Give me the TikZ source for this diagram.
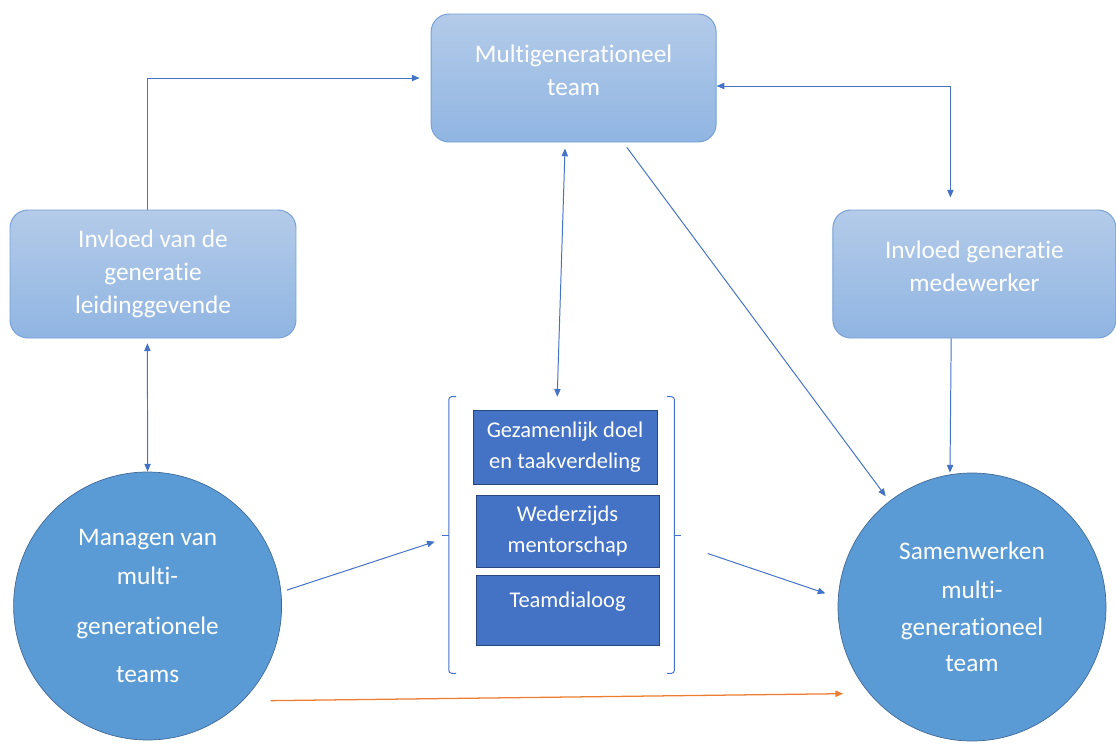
\documentclass[tikz,border=0pt]{standalone}
\usepackage{fontspec}
\setmainfont{Carlito}[Ligatures=NoCommon]
\usepackage{xcolor}
\usepackage{tikz}
\usetikzlibrary{arrows.meta}

\definecolor{boxtop}{RGB}{180,203,233}
\definecolor{boxbot}{RGB}{144,181,226}
\definecolor{boxedge}{RGB}{118,160,215}
\definecolor{circfill}{RGB}{91,155,213}
\definecolor{circedge}{RGB}{65,105,150}
\definecolor{subfill}{RGB}{68,114,196}
\definecolor{subedge}{RGB}{40,70,125}
\definecolor{lineblue}{RGB}{68,114,196}
\definecolor{lineorange}{RGB}{237,125,49}

\begin{document}
\begin{tikzpicture}[every node/.style={font=\fontsize{18}{23.5}\selectfont, text=white, align=center},
  >={Triangle[length=5.5pt,width=4.5pt]},
  genbox/.style={draw=boxedge, top color=boxtop, bottom color=boxbot, line width=0.7pt,
                 rounded corners=0.45cm, minimum width=7.125cm, minimum height=3.2cm},
  circ/.style={circle, draw=circedge, fill=circfill, line width=0.5pt,
               minimum size=6.7cm, inner sep=0pt},
  subbox/.style={draw=subedge, fill=subfill, line width=0.7pt, minimum width=4.575cm,
                 font=\fontsize{16}{22}\selectfont},
  conn/.style={draw=lineblue, line width=0.7pt},
  orangeconn/.style={draw=lineorange, line width=0.9pt},
  brk/.style={draw=lineblue, line width=0.7pt, rounded corners=2pt}]

  \useasboundingbox (0,0) rectangle (27.9,-18.675);

  % upper row
  \node[genbox, text depth=11.5pt] (tbox) at (14.34,-1.95) {Multigenerationeel\\team};
  \node[genbox, minimum width=7.15cm] (lbox) at (3.825,-6.85)
    {Invloed van de\\generatie\\leidinggevende};
  \node[genbox, minimum width=7.075cm, text depth=11.5pt] (rbox) at (24.36,-6.85)
    {Invloed generatie\\medewerker};

  % circles
  \node[circ] (lcirc) at (3.69,-15.15)
    {Managen van\\[4pt]multi-\\[12pt]generationele\\[11pt]teams};
  \node[circ] (rcirc) at (24.3,-15.175)
    {Samenwerken\\[4pt]multi-\\[3pt]generationeel\\[2pt]team};

  % middle group
  \node[minimum width=5.625cm, minimum height=6.9cm] (grp) at (14.04,-13.375) {};
  \node[subbox, minimum width=4.6cm, minimum height=1.85cm] (g1) at (14.125,-11.175)
    {Gezamenlijk doel\\en taakverdeling};
  \node[subbox, minimum height=1.8cm] (g2) at (14.19,-13.275) {Wederzijds\\mentorschap};
  \node[subbox, minimum height=1.75cm, text depth=14pt] (g3) at (14.19,-15.25) {Teamdialoog};

  \draw[brk] ([xshift=0.18cm]grp.north west) -- (grp.north west) -- (grp.south west)
    -- ([xshift=0.18cm]grp.south west);
  \draw[brk] (grp.west) -- ++(-0.16cm,0);
  \draw[brk] ([xshift=-0.18cm]grp.north east) -- (grp.north east) -- (grp.south east)
    -- ([xshift=-0.18cm]grp.south east);
  \draw[brk] (grp.east) -- ++(0.16cm,0);

  % connectors
  \draw[conn, ->, shorten >=0.275cm] ([xshift=-0.15cm]lbox.north) |- (tbox.west);
  \draw[conn, <->, shorten >=0.3cm] ([yshift=-0.2cm]tbox.east) -| ([xshift=-0.6cm]rbox.north);
  \draw[conn, <->, shorten <=0.15cm] ([xshift=-0.21cm]tbox.south) -- ([xshift=-0.11cm]grp.north);
  \draw[conn, ->, shorten <=0.15cm, shorten >=0.15cm] ([xshift=1.24cm]tbox.south) -- (rcirc.128);
  \draw[conn, <->, shorten <=0.12cm] ([xshift=-0.14cm]lbox.south) -- (lcirc.north);
  \draw[conn, ->] ([xshift=-0.58cm]rbox.south) -- ([xshift=-0.55cm]rcirc.north);
  \draw[conn, ->, shorten <=0.15cm, shorten >=0.37cm] (lcirc.6) -- ([yshift=-0.05cm]grp.west);
  \draw[conn, ->, shorten <=0.88cm, shorten >=0.33cm] ([yshift=-0.18cm]grp.east) -- (rcirc.176);
  \draw[orangeconn, ->, shorten <=0.7cm, shorten >=0.65cm] (lcirc.-45) -- (rcirc.-140);
\end{tikzpicture}
\end{document}
